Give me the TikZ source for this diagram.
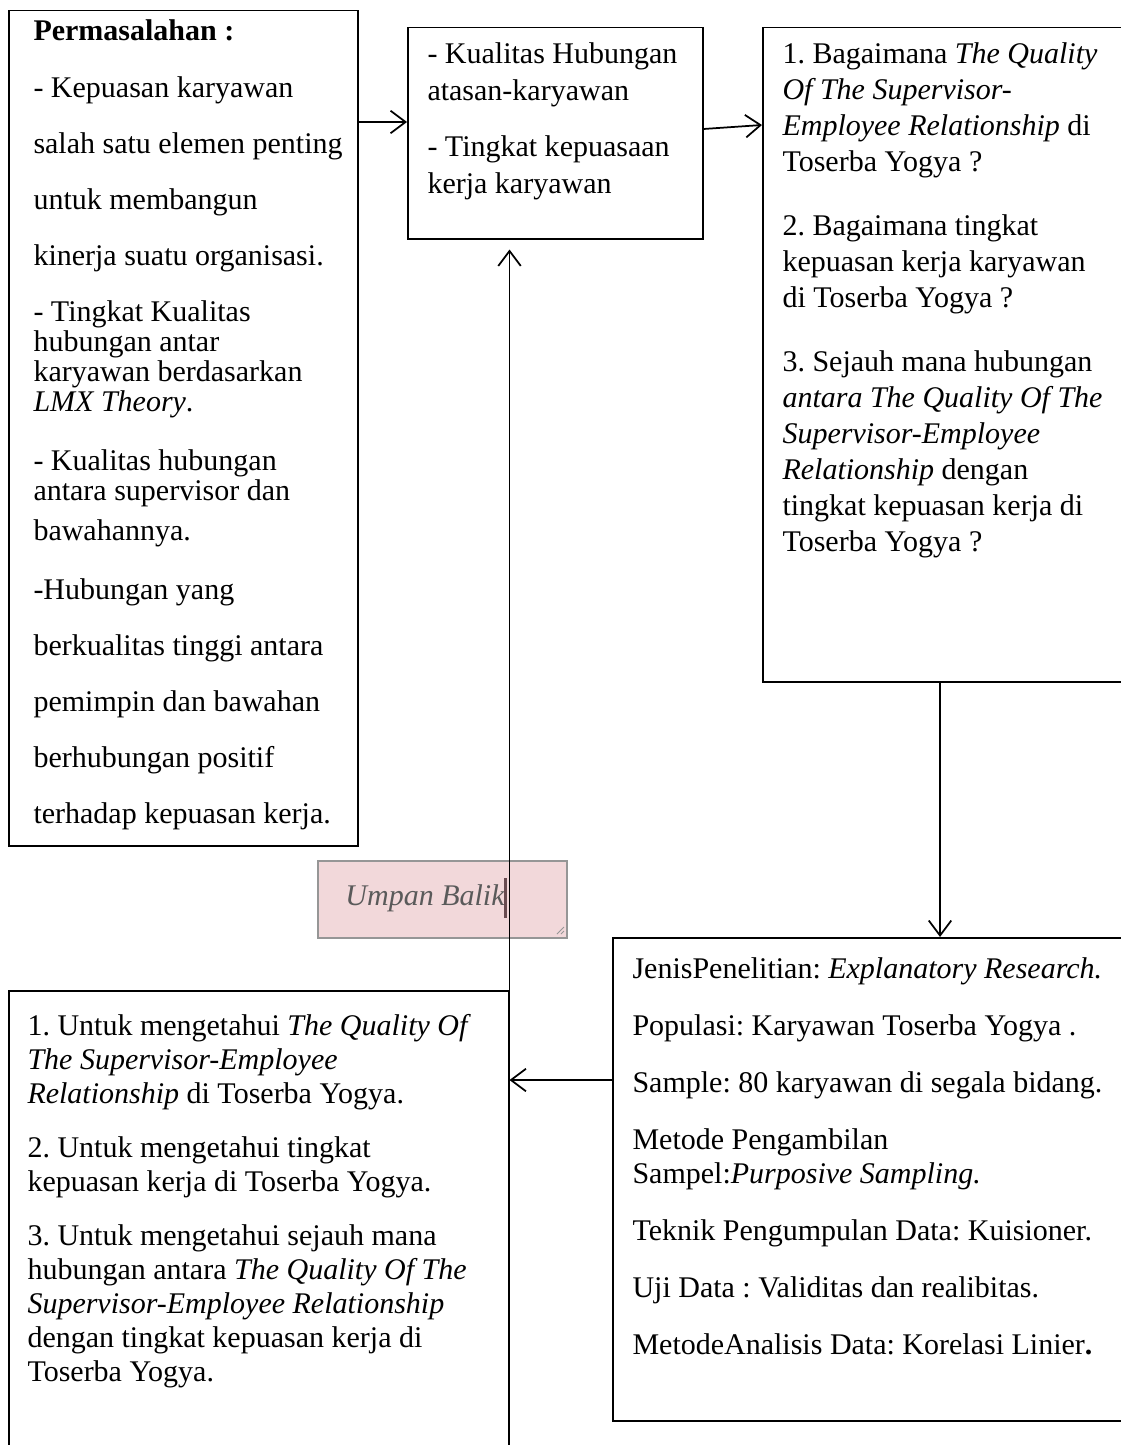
\documentclass[tikz,border=0pt]{standalone}
\usepackage{fontspec}
\setmainfont{Liberation Serif}
\frenchspacing
\usetikzlibrary{arrows.meta}
\definecolor{umpanfill}{RGB}{242,216,218}
\definecolor{umpanline}{RGB}{150,150,150}
\definecolor{umpantext}{RGB}{90,90,90}
\definecolor{caretcol}{RGB}{105,75,80}

\begin{document}
\begin{tikzpicture}
[x=0.4pt,y=-0.4pt,%
  box/.style={draw,line width=0.6pt,inner sep=0pt,anchor=north west},%
  txt/.style={inner sep=0pt,anchor=north west,align=left},%
  arr/.style={-{Straight Barb[length=6pt,width=9pt]},line width=0.7pt}]
\fill[white] (0,0) rectangle (1120,1445);
\useasboundingbox (0,0) rectangle (1120,1445);
\node[box,minimum width=139.6pt,minimum height=334pt] (masalah) at (8,10) {};
\node[box,minimum width=118pt,minimum height=84.4pt] (variabel) at (407,27) {};
\node[box,minimum width=151.2pt,minimum height=261.6pt] (rumusan) at (762,27) {};
\node[box,minimum width=211.2pt,minimum height=193.2pt] (metode) at (612,937) {};
\node[box,minimum width=200pt,minimum height=192pt] (tujuan) at (8,990) {};
\node[box,draw=umpanline,fill=umpanfill,minimum width=99.6pt,minimum height=30.8pt] (umpan) at (317,860) {};
\node[txt,font=\fontsize{12pt}{12pt}\selectfont] (masalahtxt) at (33,19) {%
  \textbf{Permasalahan :}\\[10.8pt]
  - Kepuasan karyawan\\[10.4pt]
  salah satu elemen penting\\[10.4pt]
  untuk membangun\\[10.4pt]
  kinerja suatu organisasi.\\[10.4pt]
  - Tingkat Kualitas\\
  hubungan antar\\
  karyawan berdasarkan\\
  \textit{LMX Theory}.\\[11.6pt]
  - Kualitas hubungan\\
  antara supervisor dan\\[4pt]
  bawahannya.\\[11.6pt]
  -Hubungan yang\\[10.4pt]
  berkualitas tinggi antara\\[10.4pt]
  pemimpin dan bawahan\\[10.4pt]
  berhubungan positif\\[10.4pt]
  terhadap kepuasan kerja.};
\node[txt,font=\fontsize{12pt}{14.8pt}\selectfont] (variabeltxt) at (427,42) {%
  - Kualitas Hubungan\\
  atasan-karyawan\\[7.6pt]
  - Tingkat kepuasaan\\
  kerja karyawan};
\node[txt,font=\fontsize{12pt}{14.4pt}\selectfont] (rumusantxt) at (782,42) {%
  1. Bagaimana \textit{The Quality}\\
  \textit{Of The Supervisor-}\\
  \textit{Employee Relationship} di\\
  Toserba Yogya ?\\[11.2pt]
  2. Bagaimana tingkat\\
  kepuasan kerja karyawan\\
  di Toserba Yogya ?\\[11.2pt]
  3. Sejauh mana hubungan\\
  \textit{antara The Quality Of The}\\
  \textit{Supervisor-Employee}\\
  \textit{Relationship} dengan\\
  tingkat kepuasan kerja di\\
  Toserba Yogya ?};
\node[txt,font=\fontsize{12pt}{13.6pt}\selectfont] (metodetxt) at (632,957) {%
  JenisPenelitian: \textit{Explanatory Research.}\\[9.2pt]
  Populasi: Karyawan Toserba Yogya .\\[9.2pt]
  Sample: 80 karyawan di segala bidang.\\[9.2pt]
  Metode Pengambilan\\
  Sampel:\textit{Purposive Sampling.}\\[9.2pt]
  Teknik Pengumpulan Data: Kuisioner.\\[9.2pt]
  Uji Data : Validitas dan realibitas.\\[9.2pt]
  MetodeAnalisis Data: Korelasi Linier\textbf{.}};
\node[txt,font=\fontsize{12pt}{13.6pt}\selectfont] (tujuantxt) at (27,1014) {%
  1. Untuk mengetahui \textit{The Quality Of}\\
  \textit{The Supervisor-Employee}\\
  \textit{Relationship} di Toserba Yogya.\\[8pt]
  2. Untuk mengetahui tingkat\\
  kepuasan kerja di Toserba Yogya.\\[8pt]
  3. Untuk mengetahui sejauh mana\\
  hubungan antara \textit{The Quality Of The}\\
  \textit{Supervisor-Employee Relationship}\\
  dengan tingkat kepuasan kerja di\\
  Toserba Yogya.};
\node[inner sep=0pt,text=umpantext,font=\fontsize{12pt}{14pt}\selectfont\itshape] (umpantxt) at (425,898) {Umpan Balik};
\coordinate (y1) at (0,122);
\coordinate (y2a) at (0,129);
\coordinate (y2b) at (0,125);
\coordinate (x3) at (940,0);
\coordinate (y4) at (0,1080);
\draw[arr] (masalah.east |- y1) -- (variabel.west |- y1);
\draw[arr] (variabel.east |- y2a) -- (rumusan.west |- y2b);
\draw[arr] (rumusan.south -| x3) -- (metode.north -| x3);
\draw[arr] (metode.west |- y4) -- (tujuan.east |- y4);
\draw[arr,shorten >=4pt] (tujuan.north east) -- (variabel.south -| tujuan.north east);
\draw[caretcol,line width=1.2pt] (505,878) -- (505,918);
\draw[umpanline,line width=0.4pt] (557,934) -- (564,927) (561,934) -- (564,931);
\end{tikzpicture}
\end{document}
